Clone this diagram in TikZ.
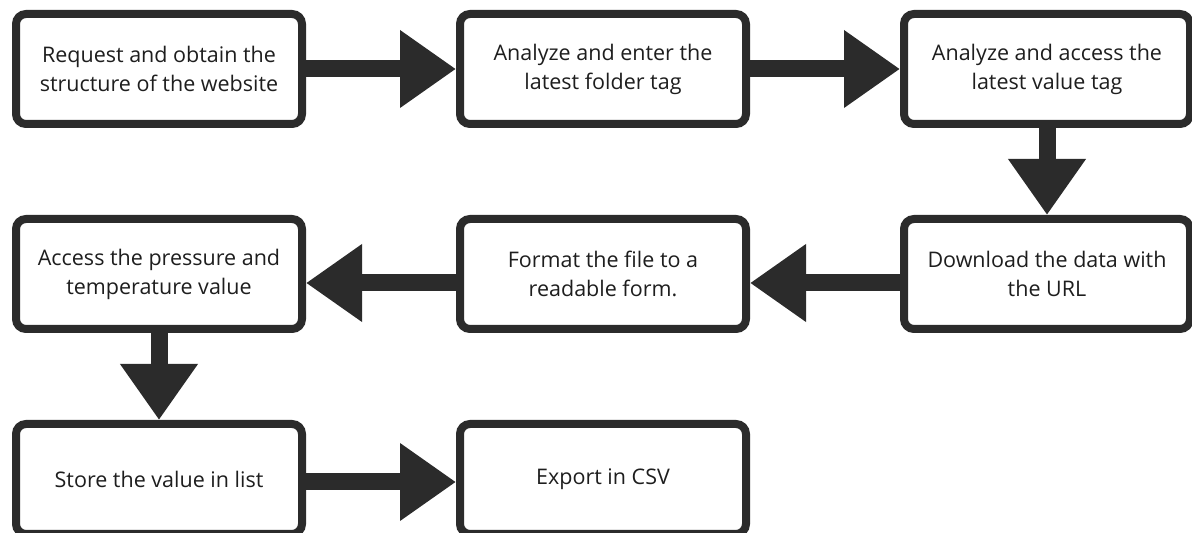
\documentclass[tikz,border=0pt]{standalone}
\usepackage{fontspec}
\setmainfont{Open Sans}
\usepackage{tikz}
\usetikzlibrary{arrows.meta, positioning}
\definecolor{inkcolor}{HTML}{2B2B2B}
\definecolor{txtcolor}{HTML}{1E1E1E}

\begin{document}
\begin{tikzpicture}[x=1pt, y=1pt, node distance=87pt and 150pt]
\tikzstyle{st}=[draw=inkcolor, line width=8pt, rounded corners=10pt, fill=white, minimum width=286pt, minimum height=110pt, align=center, text=txtcolor, font=\fontsize{21.5}{29}\selectfont]
\tikzstyle{ar}=[-{Triangle[length=56pt, width=74pt]}, line width=17pt, color=inkcolor]

\useasboundingbox (0,0) rectangle (1192,533);

\node[st](req) at (159,464){Request and obtain the\\structure of the website};
\node[st, right=of req](fold){Analyze and enter the\\latest folder tag};
\node[st, right=of fold](val){Analyze and access the\\latest value tag};
\node[st, below=of val](down){Download the data with\\the URL};
\node[st, left=of down](fmt){Format the file to a\\readable form.};
\node[st, left=of fmt](acc){Access the pressure and\\temperature value};
\node[st, below=of acc](store){Store the value in list};
\node[st, right=of store](csv){Export in CSV};

\draw[ar](req)--(fold); \draw[ar](fold)--(val); \draw[ar](val)--(down);
\draw[ar]([yshift=-9pt]down.west)--([yshift=-9pt]fmt.east);
\draw[ar]([yshift=-9pt]fmt.west)--([yshift=-9pt]acc.east);
\draw[ar](acc)--(store);
\draw[ar]([yshift=-3pt]store.east)--([yshift=-3pt]csv.west);
\end{tikzpicture}
\end{document}
